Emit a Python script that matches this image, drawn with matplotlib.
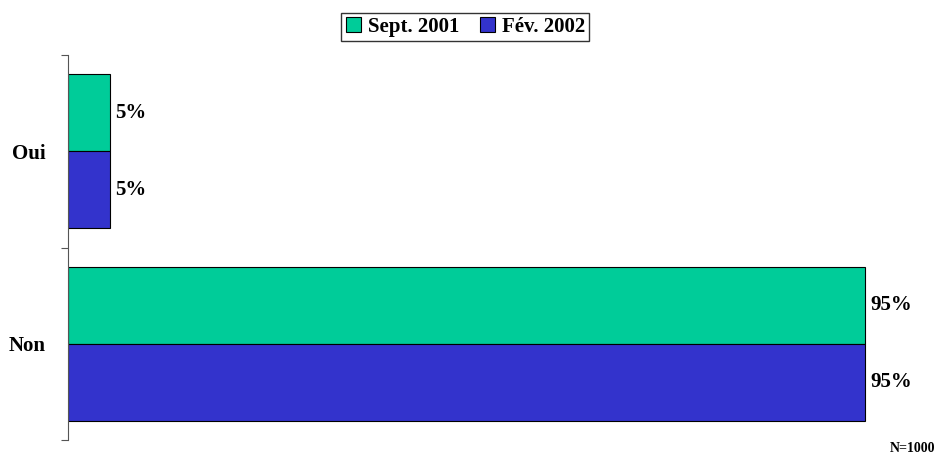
import matplotlib
matplotlib.use("Agg")
import matplotlib.pyplot as plt
import numpy as np

categories = ["Oui", "Non"]
series = ["Sept. 2001", "Fév. 2002"]
sept_2001 = [5, 95]
fev_2002 = [5, 95]
colors = ["#00CC99", "#3333CC"]

plt.rcParams["font.family"] = ["Liberation Serif", "DejaVu Serif"]
plt.rcParams["font.weight"] = "bold"

fig = plt.figure(figsize=(9.38, 4.55), dpi=100)
ax = fig.add_axes([68 / 938, 15 / 455, (907 - 68) / 938, 385 / 455])

y = np.arange(len(categories))[::-1]  # Oui on top
h = 0.4
b1 = ax.barh(y + h / 2, sept_2001, h, color=colors[0], edgecolor="black",
             linewidth=0.8, label=series[0])
b2 = ax.barh(y - h / 2, fev_2002, h, color=colors[1], edgecolor="black",
             linewidth=0.8, label=series[1])

for bars, vals in ((b1, sept_2001), (b2, fev_2002)):
    for bar, v in zip(bars, vals):
        ax.text(bar.get_width() + 0.6, bar.get_y() + bar.get_height() / 2,
                f"{v}%", va="center", ha="left", fontsize=15, fontweight="bold")

ax.set_xlim(0, 100)
ax.set_ylim(-0.5, len(categories) - 0.5)
for s in ("top", "right", "bottom"):
    ax.spines[s].set_visible(False)
ax.spines["left"].set_color("#555555")
ax.set_xticks([])
ax.set_yticks([-0.5, 0.5, 1.5])
ax.set_yticklabels([])
ax.set_yticks(y, minor=True)
ax.set_yticklabels(categories, minor=True, fontsize=15, fontweight="bold")
ax.tick_params(axis="y", which="major", direction="out", length=5, color="#555555")
ax.tick_params(axis="y", which="minor", length=0, pad=16)

leg = fig.legend(loc="upper center", bbox_to_anchor=(0.496, 0.972), ncol=2,
                 frameon=True, fancybox=False, edgecolor="black",
                 prop={"size": 15, "weight": "bold"}, handlelength=0.75,
                 handleheight=0.75, handletextpad=0.3, columnspacing=1.0,
                 borderpad=0.2, borderaxespad=0)
leg.get_frame().set_linewidth(1.0)

fig.text(935 / 938, 1 - 448 / 455, "N=1000", ha="right", va="center",
         fontsize=10, fontweight="bold")

fig.savefig("out.png", dpi=100)
